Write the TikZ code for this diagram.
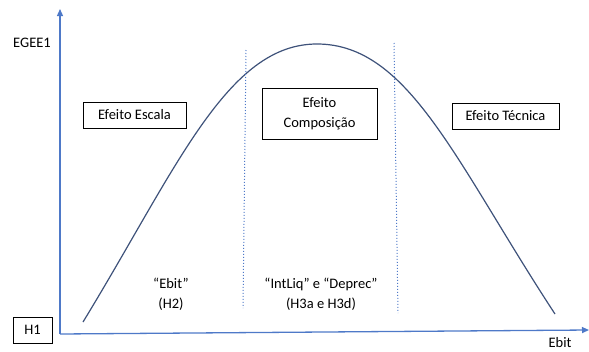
\documentclass[tikz,border=0pt]{standalone}
\usepackage{fontspec}
\setmainfont{Carlito}
\usetikzlibrary{arrows.meta}
\definecolor{axisblue}{RGB}{78,121,200}
\definecolor{curveblue}{RGB}{62,82,122}

\begin{document}
\begin{tikzpicture}[x=1pt,y=-1pt,
    every node/.style={font=\fontsize{14.5}{20}\selectfont},
    effbox/.style={draw,line width=0.9pt,inner sep=0pt,align=center},
    sepline/.style={axisblue,dotted,line width=1pt}]
\useasboundingbox (0,0) rectangle (589,351);

% Draw axes
\coordinate (origin) at (60,334);
\coordinate (ytop) at (60,9);
\coordinate (xend) at (589,330);
\draw[axisblue,line width=1.3pt,-{Triangle[length=7pt,width=6pt]}] (origin) -- (ytop);
\draw[axisblue,line width=1.3pt,-{Triangle[length=7pt,width=6pt]}] (origin) -- (xend);

% Label axes
\node (ylabel) at (32,43) {EGEE1};
\node[inner sep=0pt] (xlabel) at (560,343) {Ebit};
\node[effbox,minimum width=39pt,minimum height=26pt] (h1) at (32.5,330) {H1};

% Draw curve
\coordinate (cstart) at (83,322);
\coordinate (cpeak) at (317,44);
\coordinate (cend) at (555,314);
\draw[curveblue,line width=1.2pt] (cstart) .. controls (177,168) and (227,44) .. (cpeak)
  .. controls (409,44) and (456,163) .. (cend);

% Draw separators
\coordinate (sepatop) at (246,50);
\coordinate (sepabot) at (243,308);
\coordinate (sepbtop) at (394,43);
\coordinate (sepbbot) at (398,313);
\draw[sepline] (sepatop) -- (sepabot);
\draw[sepline] (sepbtop) -- (sepbbot);

% Effect boxes
\node[effbox,minimum width=103pt,minimum height=26pt] (escala) at (134.5,115) {Efeito Escala};
\node[effbox,minimum width=115pt,minimum height=51pt] (composicao) at (319.5,113.5) {Efeito\\Composição};
\node[effbox,minimum width=107pt,minimum height=26pt] (tecnica) at (505.5,116) {Efeito Técnica};

% Label hypotheses
\node[align=center] (ebit) at (171,294) {“Ebit”\\(H2)};
\node[align=center] (intliq) at (321,294) {“IntLiq” e “Deprec”\\(H3a e H3d)};
\end{tikzpicture}
\end{document}
